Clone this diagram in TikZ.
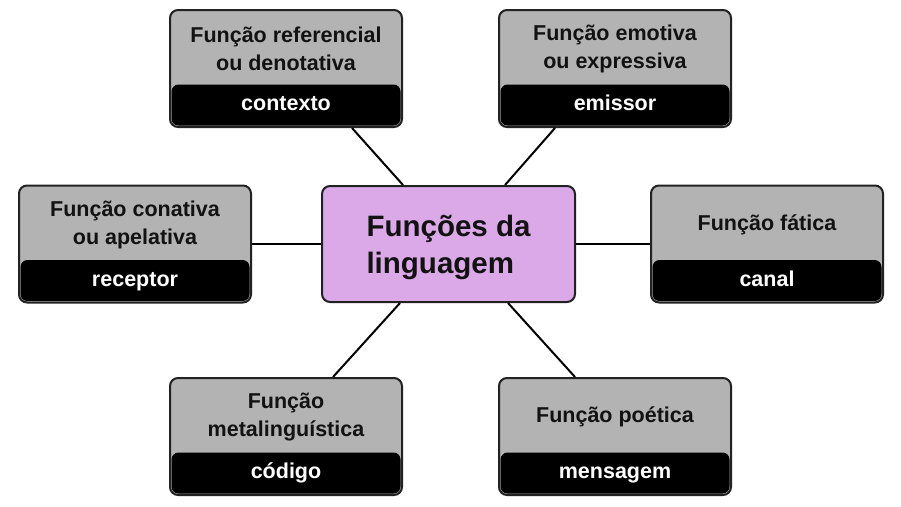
\documentclass[tikz,border=0pt]{standalone}
\usepackage{fontspec}
\setmainfont{Liberation Sans}
\usetikzlibrary{backgrounds, calc, positioning}

\definecolor{boxgrey}{RGB}{179,179,179}
\definecolor{hubpurple}{RGB}{219,168,232}
\definecolor{bordergrey}{RGB}{34,34,34}

\begin{document}
\begin{tikzpicture}[
            background rectangle/.style={fill=white},
            show background rectangle,
            x=1pt, y=-1pt,
            line width=2pt
        ]

        \tikzstyle{func}=[
            draw=bordergrey,
            fill=boxgrey,
            rounded corners=8pt,
            minimum width=232pt,
            minimum height=117pt,
            inner sep=0pt
        ]
        \tikzstyle{band}=[
            fill=black,
            rounded corners=7pt,
            minimum width=229pt,
            minimum height=41pt,
            inner sep=0pt,
            text height=15.5pt,
            text depth=4.5pt,
            text=white,
            font=\fontsize{21.5}{26}\selectfont\bfseries
        ]
        \tikzstyle{title}=[
            align=center,
            inner sep=0pt,
            yshift=-3pt,
            text=black!93,
            font=\fontsize{21.5}{28}\selectfont\bfseries
        ]
        \tikzstyle{hubbox}=[
            draw=bordergrey,
            fill=hubpurple,
            rounded corners=8pt,
            minimum width=253pt,
            minimum height=116pt,
            align=left,
            text depth=0pt,
            text=black!93,
            font=\fontsize{29.5}{37}\selectfont\bfseries
        ]

        \useasboundingbox (0,0) rectangle (901,506);

        % hub
        \node[hubbox] (hub) at (448.5,244) {Funções da\\linguagem};

        % the six functions
        \node[func] (refer) [above=57pt of hub, xshift=-162.5pt] {};
        \node[func] (emot) [above=57pt of hub, xshift=166.5pt] {};
        \node[func] (conat) [left=69pt of hub] {};
        \node[func] (fatic) [right=74pt of hub] {};
        \node[func] (metal) [below=74pt of hub, xshift=-162.5pt] {};
        \node[func] (poet) [below=74pt of hub, xshift=166.5pt] {};

        \node[band, anchor=south] (referband) at ([yshift=1.5pt]refer.south) {contexto};
        \node[band, anchor=south] (emotband) at ([yshift=1.5pt]emot.south) {emissor};
        \node[band, anchor=south] (conatband) at ([yshift=1.5pt]conat.south) {receptor};
        \node[band, anchor=south] (faticband) at ([yshift=1.5pt]fatic.south) {canal};
        \node[band, anchor=south] (metalband) at ([yshift=1.5pt]metal.south) {código};
        \node[band, anchor=south] (poetband) at ([yshift=1.5pt]poet.south) {mensagem};

        \node[title] (refertitle) at ($(refer.north)!0.5!(referband.north)$) {Função referencial\\ou denotativa};
        \node[title] (emottitle) at ($(emot.north)!0.5!(emotband.north)$) {Função emotiva\\ou expressiva};
        \node[title] (conattitle) at ($(conat.north)!0.5!(conatband.north)$) {Função conativa\\ou apelativa};
        \node[title] (fatictitle) at ($(fatic.north)!0.5!(faticband.north)$) {Função fática};
        \node[title] (metaltitle) at ($(metal.north)!0.5!(metalband.north)$) {Função\\metalinguística};
        \node[title] (poettitle) at ($(poet.north)!0.5!(poetband.north)$) {Função poética};

        % spokes
        \path[-] ([xshift=66pt]refer.south) edge ([xshift=-45.5pt]hub.north);
        \path[-] ([xshift=-60pt]emot.south) edge ([xshift=56.5pt]hub.north);
        \path[-] (conat.east) edge (hub.west);
        \path[-] (hub.east) edge (fatic.west);
        \path[-] ([xshift=47pt]metal.north) edge ([xshift=-48.5pt]hub.south);
        \path[-] ([xshift=-40pt]poet.north) edge ([xshift=59.5pt]hub.south);

    \end{tikzpicture}
\end{document}
